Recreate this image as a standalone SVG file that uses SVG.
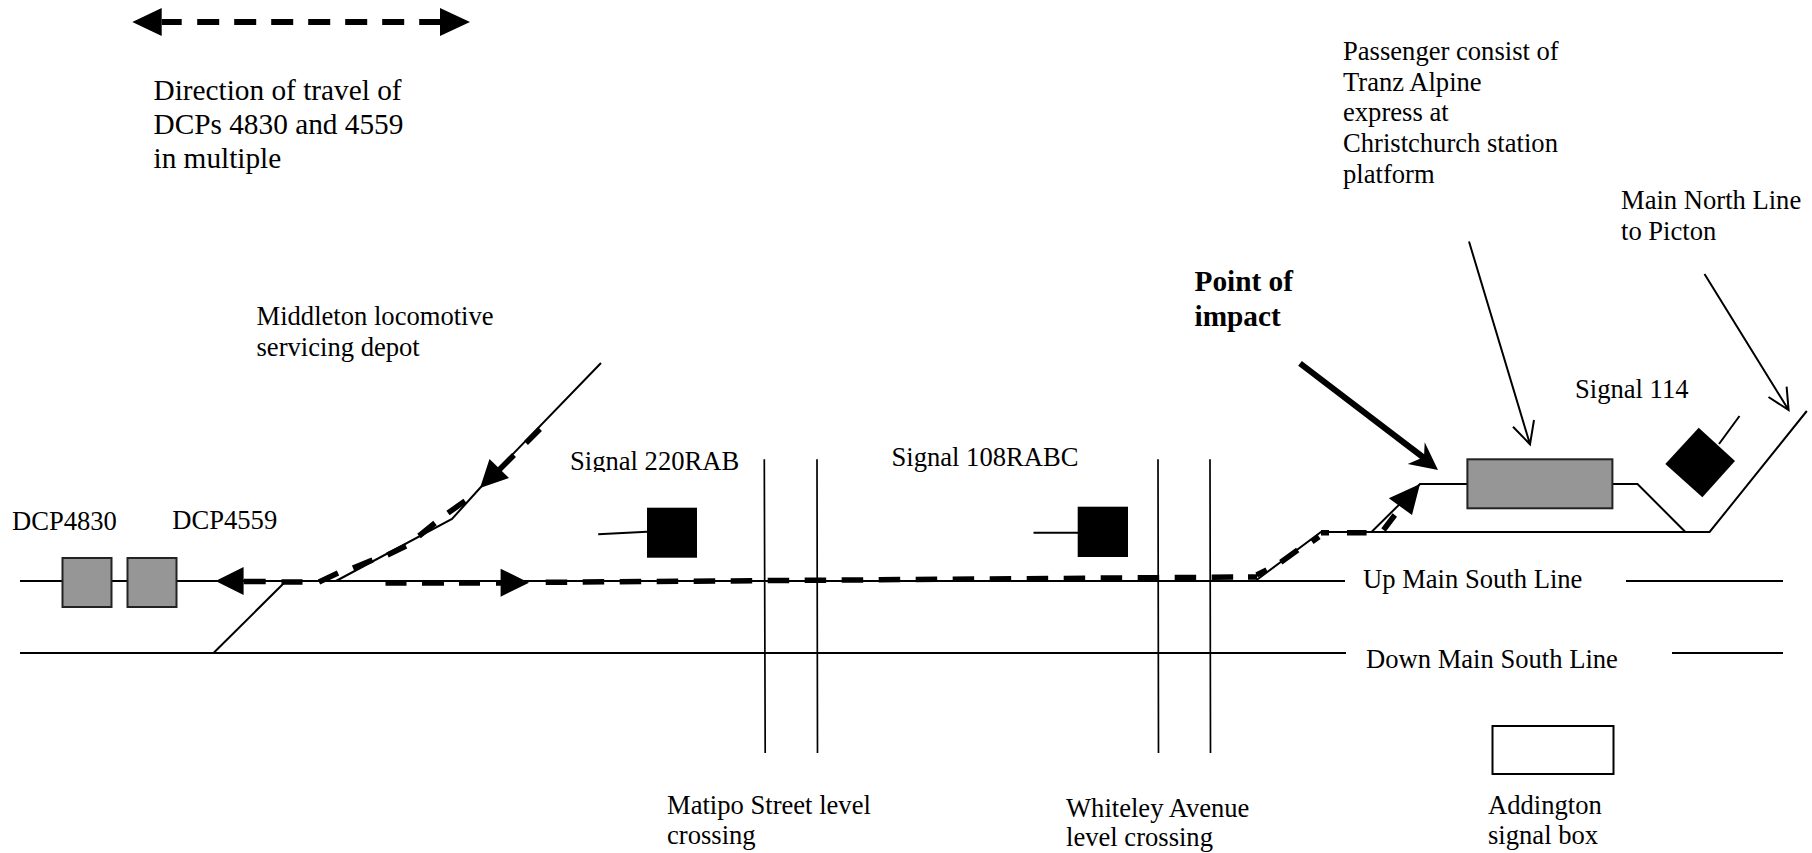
<svg xmlns="http://www.w3.org/2000/svg" width="1812" height="853" viewBox="0 0 1812 853">
<style>
text{font-family:"Liberation Serif","Times New Roman",serif;font-size:26.6px;fill:#000}
.big{font-size:29.3px}
.bold{font-size:29.3px;font-weight:bold}
.t{fill:none;stroke:#000;stroke-width:2}
.w{fill:none;stroke:#000;stroke-width:1.7}
.d{fill:none;stroke:#000;stroke-width:5.5}
.dash{fill:none;stroke:#000;stroke-width:5.5;stroke-dasharray:21.5 15.5}
.top{fill:none;stroke:#000;stroke-width:6;stroke-dasharray:20 15.5 22 15 22 15 22 15 22 15 22 15 22 15 22 15}
.h{fill:#000;stroke:none}
.loco{fill:#969696;stroke:#222;stroke-width:2}
.sig{fill:#000;stroke:none}
</style>
<rect width="1812" height="853" fill="#fff"/>
<g id="connectors">
<path class="t" d="M20 581H1345M1626 581H1783"/>
<path class="t" d="M20 653H1346M1672 653H1783"/>
<path class="t" d="M213.5 653L285 582"/>
<path class="t" d="M601 363L480 488L452 519L336 581"/>
<path class="t" d="M1256.6 580L1321 532H1371.5L1420 484H1470M1613 484H1637.5L1685.4 532M1371.5 532H1709.6L1806.8 411"/>
<path class="w" d="M764.3 459.3L765.2 753M817 459.3L817.5 753M1158 459.3L1158.5 753M1210 459.3L1210.5 753"/>
<path class="top" d="M161.7 22H440"/>
<path class="h" d="M132.3 22L161.7 8V36ZM470 22L440 8V36Z"/>
<path class="h" d="M215.5 581L243.6 567V595ZM529 582.7L500.6 568.7V596.7ZM480 488L489.5 459L509 478ZM1420 484L1388.8 498.3L1412 515Z"/>
<path class="d" d="M243.6 581.5H265.7M281.5 582H302.5M385.5 583H406.5M422 583H444M459 583H480M496 583H501"/>
<path class="dash" d="M545.7 582.3L1248 577"/>
<path class="d" d="M1248 577H1257M540 429L526 443M514 455L499 470M465 501L448 513M435 523L419 536M406 546L387.5 555M372.5 560L353 568M338 573L319 582M1266.7 570L1256.6 575M1297.7 550L1280.8 562.3M1319 536.7L1312 541.7M1321 532.7H1329M1347 532.7H1366.6M1394.8 515L1383.5 530"/>
<path class="t" d="M598.2 534.3L647 531.7M1033.5 532.7H1078M1739.5 416L1719 444"/>
<path fill="none" stroke="#000" stroke-width="6" d="M1300 363.3L1428 461"/>
<path class="h" d="M1438 470L1424.7 442.3L1424 457L1407.7 464Z"/>
<path class="t" d="M1469 241.5L1530 444.3M1513 426.7L1530 444.3L1534 420M1704.5 274L1788.6 410M1768.5 397L1788.6 410L1786.6 386.7"/>
</g>
<g id="legend"><text class="big" x="153.5" y="100">Direction of travel of</text><text class="big" x="153.5" y="134">DCPs 4830 and 4559</text><text class="big" x="153.5" y="168">in multiple</text></g>
<g id="dcp4830"><rect class="loco" x="62.5" y="558" width="49" height="49"/><text x="12" y="530">DCP4830</text></g>
<g id="dcp4559"><rect class="loco" x="127.5" y="558" width="49" height="49"/><text x="172.3" y="529">DCP4559</text></g>
<g id="depot"><text x="256.5" y="325">Middleton locomotive</text><text x="256.5" y="356">servicing depot</text></g>
<g id="signal220"><text x="570" y="470">Signal 220RAB</text><rect x="565" y="472" width="180" height="9" fill="#fff"/><rect class="sig" x="647" y="507.7" width="50" height="50"/></g>
<g id="signal108"><text x="891.5" y="465.7">Signal 108RABC</text><rect class="sig" x="1077.7" y="506.7" width="50.3" height="50.3"/></g>
<g id="signal114"><text x="1575" y="398">Signal 114</text><path class="sig" d="M1698.7 427.7L1735 461L1702.4 497.3L1665.3 464Z"/></g>
<g id="consist"><rect class="loco" x="1467.4" y="459.3" width="145" height="49"/><text x="1343" y="60">Passenger consist of</text><text x="1343" y="90.7">Tranz Alpine</text><text x="1343" y="121.4">express at</text><text x="1343" y="152.1">Christchurch station</text><text x="1343" y="182.8">platform</text></g>
<g id="mainnorth"><text x="1621" y="209">Main North Line</text><text x="1621" y="240">to Picton</text></g>
<g id="impact"><text class="bold" x="1194.5" y="291">Point of</text><text class="bold" x="1194.5" y="326">impact</text></g>
<g id="upmain"><text x="1363" y="588">Up Main South Line</text></g>
<g id="downmain"><text x="1366" y="668">Down Main South Line</text></g>
<g id="matipo"><text x="667" y="814">Matipo Street level</text><text x="667" y="844">crossing</text></g>
<g id="whiteley"><text x="1066" y="816.7">Whiteley Avenue</text><text x="1066" y="846">level crossing</text></g>
<g id="addington"><rect x="1492.5" y="726" width="121" height="48" fill="#fff" stroke="#000" stroke-width="2"/><text x="1488" y="814">Addington</text><text x="1488" y="844">signal box</text></g>
</svg>
